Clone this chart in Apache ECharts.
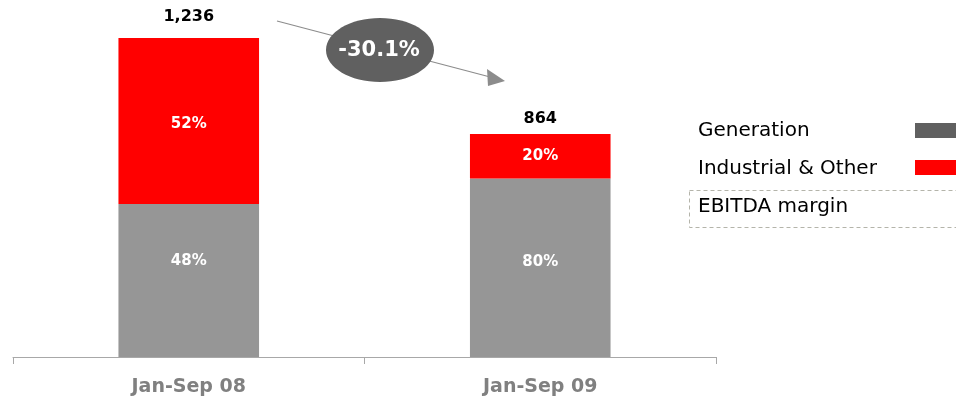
<!DOCTYPE html>
<html><head><meta charset="utf-8">
<script src="https://cdn.jsdelivr.net/npm/echarts@6/dist/echarts.min.js"></script>
<style>html,body{margin:0;padding:0;background:#fff}#c{width:956px;height:401px}</style>
</head><body><div id="c"></div>
<script>
const categories = ['Jan-Sep 08', 'Jan-Sep 09'];
const totals = [1236, 864];
const generationShare = [48, 80];
const industrialShare = [52, 20];
const changeLabel = '-30.1%';
const legendNames = ['Generation', 'Industrial & Other', 'EBITDA margin'];

const generation = totals.map((t, i) => t * generationShare[i] / 100);
const industrial = totals.map((t, i) => t * industrialShare[i] / 100);

const genOffsets = [[0, -19], [0, -6]];
const indOffsets = [[0, 3], [0, 0]];
const totOffsets = [[0, -8], [0, -2]];

const font = 'DejaVu Sans';
const pctLabel = { show: true, position: 'inside', color: '#fff', fontFamily: font, fontWeight: 'bold', fontSize: 15 };

const chart = echarts.init(document.getElementById('c'));
chart.setOption({
  animation: false,
  grid: { left: 13, right: 240, top: 38, bottom: 44 },
  xAxis: {
    type: 'category', data: categories,
    axisLine: { lineStyle: { color: '#a8a8a8', width: 1 } },
    axisTick: { show: true, length: 7, lineStyle: { color: '#a8a8a8' } },
    axisLabel: { color: '#808080', fontFamily: font, fontWeight: 'bold', fontSize: 19, margin: 21 }
  },
  yAxis: { type: 'value', min: 0, max: 1236, show: false, splitLine: { show: false } },
  series: [
    {
      name: legendNames[0], type: 'bar', stack: 's', barWidth: '40%',
      data: generation.map((v, i) => ({ value: v, label: { offset: genOffsets[i] } })),
      itemStyle: { color: '#969696' },
      label: Object.assign({}, pctLabel, { formatter: p => generationShare[p.dataIndex] + '%' })
    },
    {
      name: legendNames[1], type: 'bar', stack: 's', barWidth: '40%',
      data: industrial.map((v, i) => ({ value: v, label: { offset: indOffsets[i] } })),
      itemStyle: { color: '#ff0000' },
      label: Object.assign({}, pctLabel, { formatter: p => industrialShare[p.dataIndex] + '%' })
    },
    {
      name: 'total', type: 'bar', stack: 's', barWidth: '40%',
      data: totals.map((t, i) => ({ value: 0, label: { offset: totOffsets[i] } })),
      itemStyle: { color: 'transparent' },
      label: { show: true, position: 'top', distance: 5, color: '#000', fontFamily: font, fontWeight: 'bold', fontSize: 16,
        formatter: p => totals[p.dataIndex].toLocaleString('en-US') }
    }
  ],
  graphic: [
    { type: 'line', shape: { x1: 277, y1: 21, x2: 494, y2: 78 }, style: { stroke: '#8c8c8c', lineWidth: 1.2 } },
    { type: 'polygon', shape: { points: [[505, 81], [487, 69], [488, 86]] }, style: { fill: '#8c8c8c' } },
    { type: 'ellipse', shape: { cx: 380, cy: 50, rx: 54, ry: 32 }, style: { fill: '#606060' } },
    { type: 'text', x: 379, y: 51, style: { text: changeLabel, fill: '#fff', font: 'bold 21px "DejaVu Sans"', align: 'center', verticalAlign: 'middle' } },
    { type: 'text', x: 698, y: 131, style: { text: legendNames[0], fill: '#000', font: '20px "DejaVu Sans"', verticalAlign: 'middle' } },
    { type: 'rect', shape: { x: 915, y: 123, width: 41, height: 15 }, style: { fill: '#606060' } },
    { type: 'text', x: 698, y: 169, style: { text: legendNames[1], fill: '#000', font: '20px "DejaVu Sans"', verticalAlign: 'middle' } },
    { type: 'rect', shape: { x: 915, y: 160, width: 41, height: 15 }, style: { fill: '#ff0000' } },
    { type: 'rect', shape: { x: 689.5, y: 190.5, width: 270, height: 37 }, style: { fill: 'none', stroke: '#b4b4aa', lineWidth: 1, lineDash: [4, 3] } },
    { type: 'text', x: 698, y: 207, style: { text: legendNames[2], fill: '#000', font: '20px "DejaVu Sans"', verticalAlign: 'middle' } }
  ]
});
</script></body></html>
